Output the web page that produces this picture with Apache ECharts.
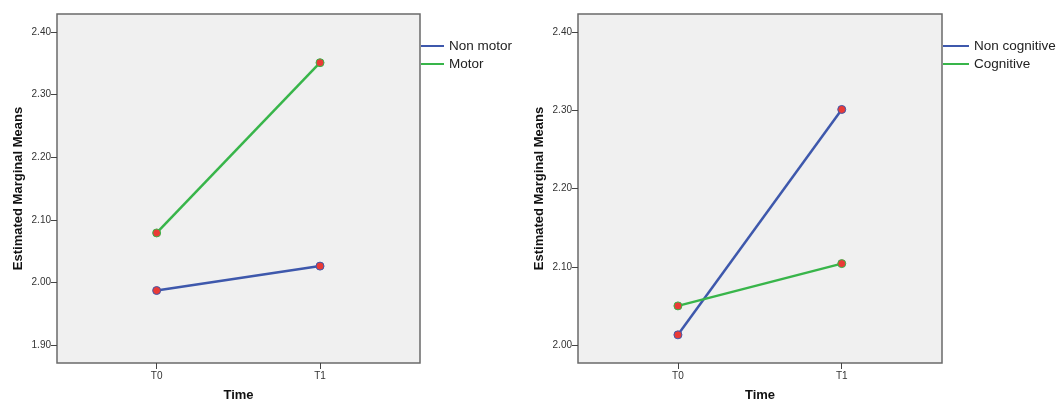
<!DOCTYPE html>
<html><head><meta charset="utf-8">
<script src="https://cdn.jsdelivr.net/npm/echarts@6/dist/echarts.min.js"></script>
<style>html,body{margin:0;padding:0;background:#fff}#c{width:1056px;height:401px}</style>
</head><body><div id="c"></div>
<script>
const timeLabels = ['T0', 'T1'];
const leftSeriesNames = ['Non motor', 'Motor'];
const nonMotor = [1.987, 2.026];
const motor = [2.079, 2.351];
const leftTicks = [1.9, 2.0, 2.1, 2.2, 2.3, 2.4];
const rightSeriesNames = ['Non cognitive', 'Cognitive'];
const nonCognitive = [2.013, 2.301];
const cognitive = [2.050, 2.104];
const rightTicks = [2.0, 2.1, 2.2, 2.3, 2.4];

const BLUE = '#3e58ac', GREEN = '#38b54a', RED = '#ea3a36';
const FONT = 'Liberation Sans, Arial, sans-serif';
const xIdx = timeLabels.map((_, i) => i);
function pts(arr){ return arr.map((v, i) => [xIdx[i], v]); }

function xAxis(gi){
  return {
    gridIndex: gi, type: 'value', min: -0.61, max: 1.612,
    splitLine: {show: false},
    axisLine: {show: false, onZero: false},
    axisTick: {show: true, customValues: xIdx, length: 6, lineStyle: {color: '#444'}},
    axisLabel: {customValues: xIdx, formatter: v => timeLabels[Math.round(v)], fontSize: 10, color: '#333', fontFamily: FONT, margin: 8},
    name: 'Time', nameLocation: 'middle', nameGap: 26,
    nameTextStyle: {fontSize: 13, fontWeight: 'bold', color: '#111', fontFamily: FONT}
  };
}
function yAxis(gi, min, max, ticks){
  return {
    gridIndex: gi, type: 'value', min: min, max: max,
    splitLine: {show: false},
    axisLine: {show: false, onZero: false},
    axisTick: {show: true, customValues: ticks, length: 6, lineStyle: {color: '#444'}},
    axisLabel: {customValues: ticks, formatter: v => v.toFixed(2), fontSize: 10, color: '#333', fontFamily: FONT, margin: 6},
    name: 'Estimated Marginal Means', nameLocation: 'middle', nameGap: 32, nameRotate: 90,
    nameTextStyle: {fontSize: 13, fontWeight: 'bold', color: '#111', fontFamily: FONT}
  };
}
function ser(name, data, color, gi){
  return {
    name: name, type: 'line', xAxisIndex: gi, yAxisIndex: gi, data: pts(data),
    lineStyle: {color: color, width: 2.5},
    itemStyle: {color: RED, borderColor: color, borderWidth: 1},
    symbol: 'circle', symbolSize: 8, showSymbol: true, animation: false
  };
}
function legend(left, names, colors, w){
  return {
    left: left, top: 39, orient: 'vertical', padding: 0, itemWidth: w, itemHeight: 2, itemGap: 4,
    data: names.map((n, i) => ({name: n, icon: 'rect', itemStyle: {color: colors[i], borderWidth: 0}})),
    textStyle: {fontSize: 13.5, color: '#222', fontFamily: FONT, lineHeight: 14},
    selectedMode: false
  };
}
const chart = echarts.init(document.getElementById('c'), null, {renderer: 'canvas'});
chart.setOption({
  animation: false,
  grid: [
    {left: 57, top: 14, width: 363, height: 349, outerBoundsMode: 'none', containLabel: false, show: true, backgroundColor: '#f0f0f0', borderColor: '#6a6a6a', borderWidth: 1.5},
    {left: 578, top: 14, width: 364, height: 349, outerBoundsMode: 'none', containLabel: false, show: true, backgroundColor: '#f0f0f0', borderColor: '#6a6a6a', borderWidth: 1.5}
  ],
  xAxis: [xAxis(0), xAxis(1)],
  yAxis: [yAxis(0, 1.8712, 2.4288, leftTicks), yAxis(1, 1.977, 2.423, rightTicks)],
  legend: [
    legend(421, leftSeriesNames, [BLUE, GREEN], 23),
    legend(943, rightSeriesNames, [BLUE, GREEN], 26)
  ],
  series: [
    ser(leftSeriesNames[0], nonMotor, BLUE, 0),
    ser(leftSeriesNames[1], motor, GREEN, 0),
    ser(rightSeriesNames[0], nonCognitive, BLUE, 1),
    ser(rightSeriesNames[1], cognitive, GREEN, 1)
  ]
});
</script></body></html>
